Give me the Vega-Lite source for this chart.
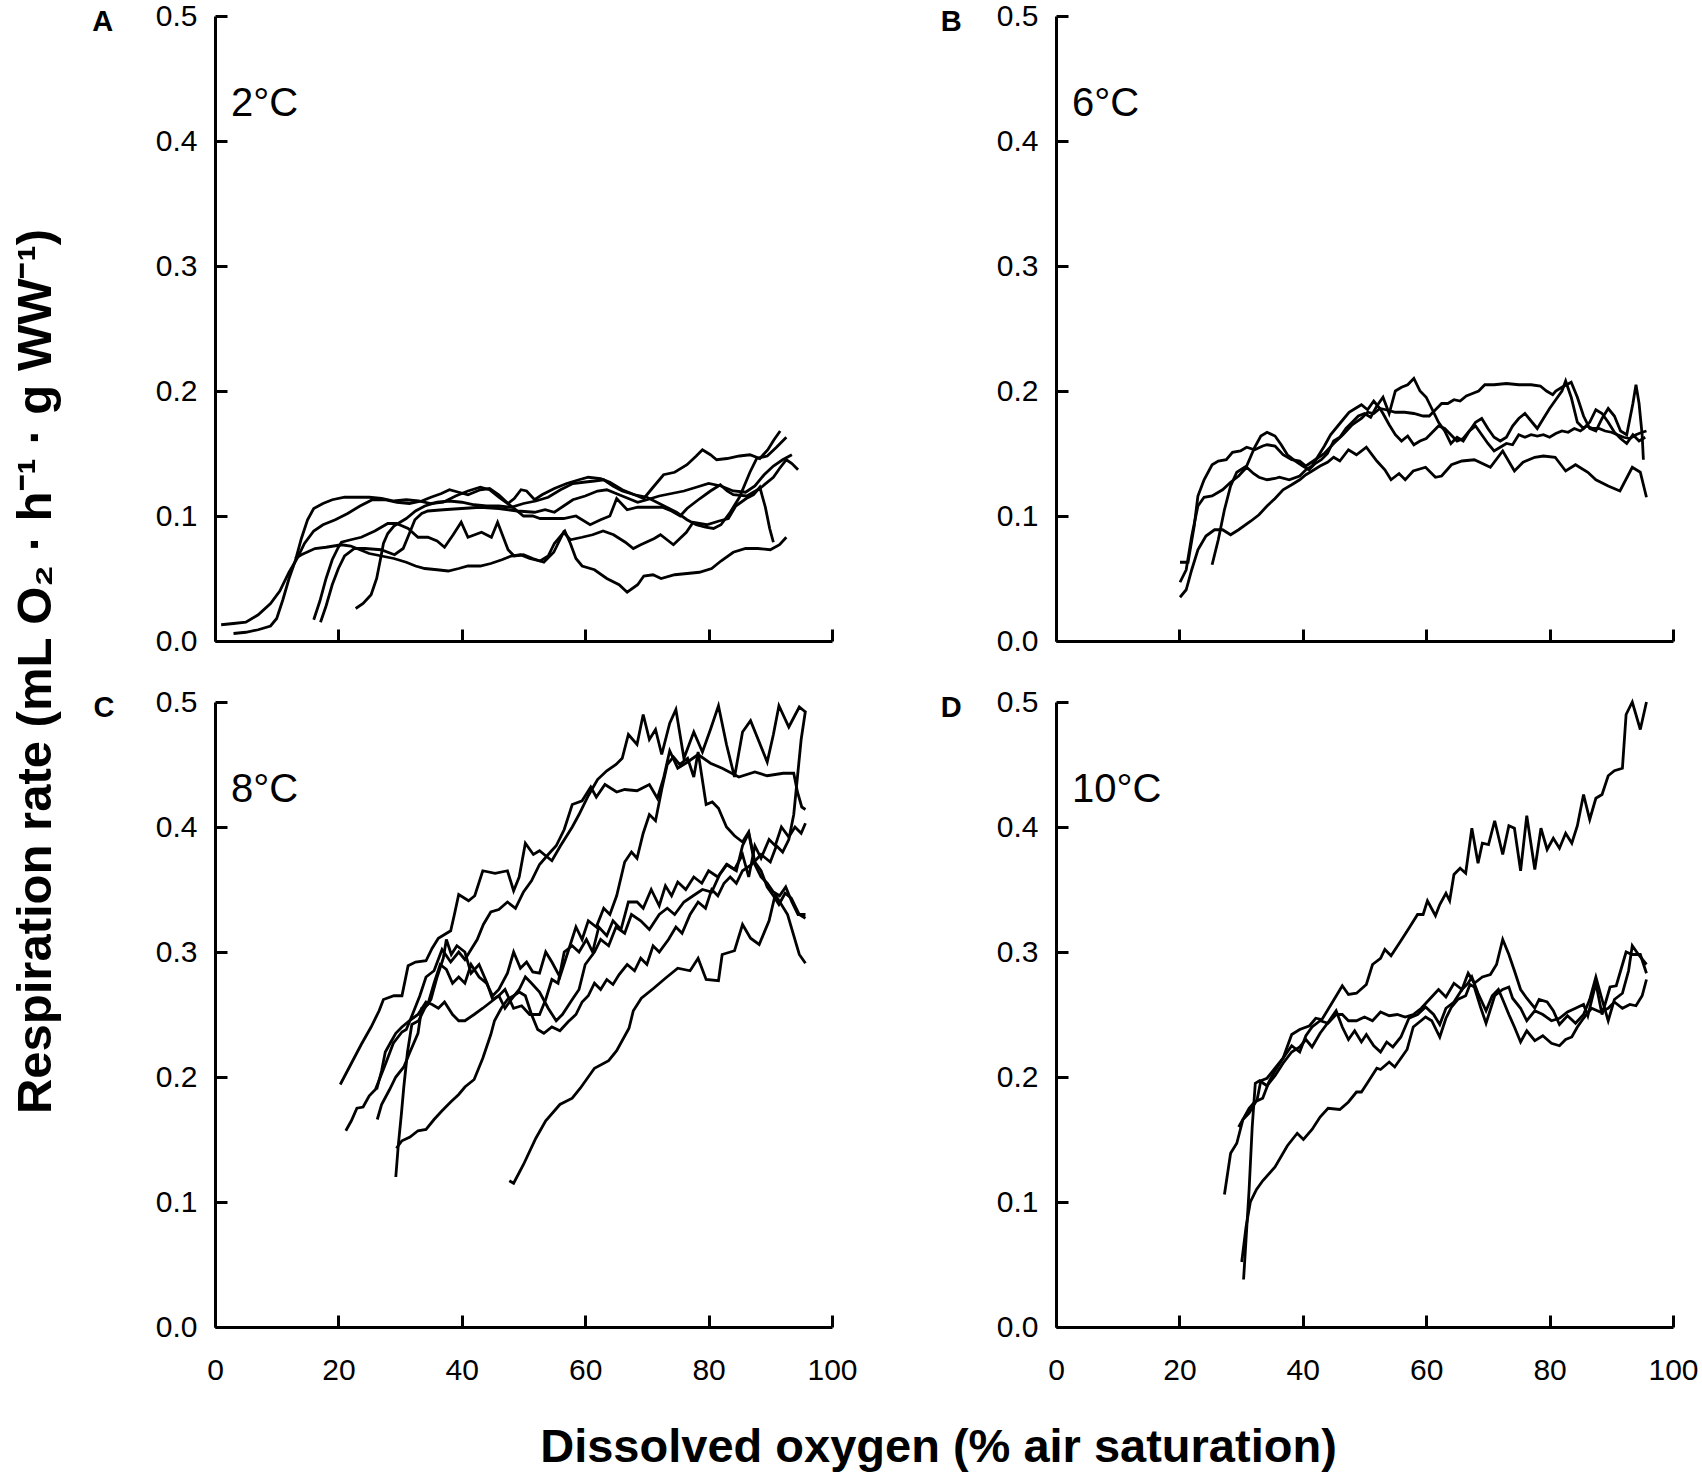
{
  "$schema": "https://vega.github.io/schema/vega-lite/v6.json",
  "background": "white",
  "padding": {"left": 11, "top": 1, "right": 5, "bottom": 3},
  "config": {
    "font": "Liberation Sans",
    "view": {"stroke": null},
    "axis": {
      "grid": false,
      "domainColor": "black",
      "domainWidth": 3,
      "tickColor": "black",
      "tickWidth": 3,
      "tickSize": -12,
      "labelColor": "black",
      "labelFontSize": 30,
      "labelFont": "Liberation Sans",
      "labelFlush": false,
      "titleColor": "black",
      "titleFont": "Liberation Sans",
      "titleFontWeight": "bold",
      "titleFontSize": 47
    },
    "axisY": {"labelPadding": 30},
    "axisX": {"labelPadding": 40},
    "text": {"color": "black", "font": "Liberation Sans"}
  },
  "datasets": {
    "A": [
      {"c":1,"x":1,"y":0.013},{"c":1,"x":3,"y":0.014},{"c":1,"x":5,"y":0.015},{"c":1,"x":7,"y":0.021},{"c":1,"x":9,"y":0.03},{"c":1,"x":10.5,"y":0.04},{"c":1,"x":12,"y":0.055},{"c":1,"x":13.3,"y":0.066},{"c":1,"x":14.5,"y":0.078},{"c":1,"x":16,"y":0.088},{"c":1,"x":17.5,"y":0.093},{"c":1,"x":19.5,"y":0.097},{"c":1,"x":21.5,"y":0.102},{"c":1,"x":23.5,"y":0.108},{"c":1,"x":25.5,"y":0.113},{"c":1,"x":27.5,"y":0.113},{"c":1,"x":29.5,"y":0.111},{"c":1,"x":31.5,"y":0.11},{"c":1,"x":33.5,"y":0.112},{"c":1,"x":35,"y":0.115},{"c":1,"x":36.7,"y":0.118},{"c":1,"x":38,"y":0.121},{"c":1,"x":39.5,"y":0.119},{"c":1,"x":41,"y":0.117},{"c":1,"x":43,"y":0.121},{"c":1,"x":44.5,"y":0.122},{"c":1,"x":46,"y":0.117},{"c":1,"x":47.5,"y":0.11},{"c":1,"x":48.5,"y":0.114},{"c":1,"x":49.6,"y":0.121},{"c":1,"x":50.5,"y":0.12},{"c":1,"x":51.8,"y":0.113},{"c":1,"x":53,"y":0.117},{"c":1,"x":55,"y":0.122},{"c":1,"x":57,"y":0.126},{"c":1,"x":59,"y":0.129},{"c":1,"x":60.5,"y":0.131},{"c":1,"x":62.5,"y":0.13},{"c":1,"x":64,"y":0.127},{"c":1,"x":66,"y":0.121},{"c":1,"x":68,"y":0.117},{"c":1,"x":69.5,"y":0.114},{"c":1,"x":71,"y":0.123},{"c":1,"x":72.7,"y":0.133},{"c":1,"x":74.5,"y":0.135},{"c":1,"x":76.5,"y":0.141},{"c":1,"x":78,"y":0.148},{"c":1,"x":79,"y":0.153},{"c":1,"x":80.3,"y":0.149},{"c":1,"x":81.3,"y":0.145},{"c":1,"x":83,"y":0.146},{"c":1,"x":85,"y":0.148},{"c":1,"x":86.7,"y":0.149},{"c":1,"x":88.3,"y":0.146},{"c":1,"x":89.6,"y":0.153},{"c":1,"x":90.6,"y":0.161},{"c":1,"x":91.6,"y":0.168},
      {"c":2,"x":3,"y":0.006},{"c":2,"x":5,"y":0.007},{"c":2,"x":7,"y":0.009},{"c":2,"x":9,"y":0.012},{"c":2,"x":10,"y":0.018},{"c":2,"x":11,"y":0.033},{"c":2,"x":12,"y":0.05},{"c":2,"x":13,"y":0.064},{"c":2,"x":14,"y":0.082},{"c":2,"x":15,"y":0.097},{"c":2,"x":16,"y":0.106},{"c":2,"x":17.5,"y":0.11},{"c":2,"x":19,"y":0.113},{"c":2,"x":21,"y":0.115},{"c":2,"x":23,"y":0.115},{"c":2,"x":25,"y":0.115},{"c":2,"x":27,"y":0.114},{"c":2,"x":29,"y":0.112},{"c":2,"x":31,"y":0.113},{"c":2,"x":33,"y":0.112},{"c":2,"x":35,"y":0.11},{"c":2,"x":37,"y":0.111},{"c":2,"x":39,"y":0.116},{"c":2,"x":41,"y":0.12},{"c":2,"x":43,"y":0.123},{"c":2,"x":44.5,"y":0.121},{"c":2,"x":46,"y":0.115},{"c":2,"x":48,"y":0.108},{"c":2,"x":50,"y":0.1},{"c":2,"x":51.5,"y":0.1},{"c":2,"x":52.7,"y":0.098},{"c":2,"x":54.9,"y":0.098},{"c":2,"x":56.5,"y":0.098},{"c":2,"x":58.5,"y":0.1},{"c":2,"x":60.8,"y":0.093},{"c":2,"x":62.5,"y":0.097},{"c":2,"x":64,"y":0.1},{"c":2,"x":65.1,"y":0.114},{"c":2,"x":66.8,"y":0.105},{"c":2,"x":68.5,"y":0.107},{"c":2,"x":70,"y":0.107},{"c":2,"x":72.5,"y":0.107},{"c":2,"x":74,"y":0.104},{"c":2,"x":75.4,"y":0.1},{"c":2,"x":76.5,"y":0.106},{"c":2,"x":78.6,"y":0.114},{"c":2,"x":80.3,"y":0.12},{"c":2,"x":81.9,"y":0.125},{"c":2,"x":83,"y":0.12},{"c":2,"x":84,"y":0.117},{"c":2,"x":86.2,"y":0.116},{"c":2,"x":88.3,"y":0.122},{"c":2,"x":90.5,"y":0.131},{"c":2,"x":91.5,"y":0.138},{"c":2,"x":92.6,"y":0.145},{"c":2,"x":93.5,"y":0.142},{"c":2,"x":94.5,"y":0.137},
      {"c":3,"x":16,"y":0.017},{"c":3,"x":17,"y":0.032},{"c":3,"x":18,"y":0.05},{"c":3,"x":19,"y":0.065},{"c":3,"x":20,"y":0.075},{"c":3,"x":20.5,"y":0.079},{"c":3,"x":22,"y":0.081},{"c":3,"x":23.7,"y":0.083},{"c":3,"x":25.9,"y":0.088},{"c":3,"x":28,"y":0.094},{"c":3,"x":29.4,"y":0.094},{"c":3,"x":31.3,"y":0.09},{"c":3,"x":32.9,"y":0.083},{"c":3,"x":34.5,"y":0.083},{"c":3,"x":36,"y":0.08},{"c":3,"x":37.2,"y":0.075},{"c":3,"x":38.6,"y":0.085},{"c":3,"x":39.9,"y":0.095},{"c":3,"x":41,"y":0.083},{"c":3,"x":43.2,"y":0.087},{"c":3,"x":44.8,"y":0.083},{"c":3,"x":45.8,"y":0.095},{"c":3,"x":47.5,"y":0.073},{"c":3,"x":48.5,"y":0.068},{"c":3,"x":50,"y":0.069},{"c":3,"x":51.5,"y":0.066},{"c":3,"x":53.3,"y":0.063},{"c":3,"x":54.9,"y":0.071},{"c":3,"x":56.5,"y":0.087},{"c":3,"x":57.6,"y":0.081},{"c":3,"x":59.5,"y":0.083},{"c":3,"x":61.2,"y":0.085},{"c":3,"x":62.9,"y":0.088},{"c":3,"x":64.6,"y":0.085},{"c":3,"x":66.5,"y":0.079},{"c":3,"x":67.8,"y":0.074},{"c":3,"x":69,"y":0.077},{"c":3,"x":71.2,"y":0.082},{"c":3,"x":72.2,"y":0.085},{"c":3,"x":74.3,"y":0.077},{"c":3,"x":76.4,"y":0.087},{"c":3,"x":77.5,"y":0.095},{"c":3,"x":79.7,"y":0.093},{"c":3,"x":81.7,"y":0.096},{"c":3,"x":83.2,"y":0.098},{"c":3,"x":84.4,"y":0.108},{"c":3,"x":86.1,"y":0.114},{"c":3,"x":87.3,"y":0.117},{"c":3,"x":88.3,"y":0.123},{"c":3,"x":89.2,"y":0.107},{"c":3,"x":89.9,"y":0.09},{"c":3,"x":90.5,"y":0.079},
      {"c":4,"x":17.1,"y":0.015},{"c":4,"x":18,"y":0.028},{"c":4,"x":19,"y":0.045},{"c":4,"x":20,"y":0.058},{"c":4,"x":21,"y":0.068},{"c":4,"x":22.6,"y":0.074},{"c":4,"x":24.3,"y":0.074},{"c":4,"x":26.9,"y":0.073},{"c":4,"x":29.1,"y":0.069},{"c":4,"x":30.5,"y":0.074},{"c":4,"x":31.5,"y":0.086},{"c":4,"x":32.4,"y":0.097},{"c":4,"x":33.5,"y":0.102},{"c":4,"x":34.5,"y":0.104},{"c":4,"x":37,"y":0.105},{"c":4,"x":40,"y":0.106},{"c":4,"x":43,"y":0.107},{"c":4,"x":46,"y":0.106},{"c":4,"x":49,"y":0.104},{"c":4,"x":51.8,"y":0.103},{"c":4,"x":53.5,"y":0.105},{"c":4,"x":55,"y":0.103},{"c":4,"x":56.5,"y":0.108},{"c":4,"x":58,"y":0.113},{"c":4,"x":60,"y":0.116},{"c":4,"x":62,"y":0.12},{"c":4,"x":63.5,"y":0.121},{"c":4,"x":65,"y":0.118},{"c":4,"x":67,"y":0.114},{"c":4,"x":68.5,"y":0.111},{"c":4,"x":70,"y":0.113},{"c":4,"x":72,"y":0.116},{"c":4,"x":74,"y":0.118},{"c":4,"x":76,"y":0.12},{"c":4,"x":78,"y":0.123},{"c":4,"x":80,"y":0.126},{"c":4,"x":82,"y":0.124},{"c":4,"x":84,"y":0.12},{"c":4,"x":86,"y":0.119},{"c":4,"x":87.5,"y":0.124},{"c":4,"x":89,"y":0.133},{"c":4,"x":90.5,"y":0.14},{"c":4,"x":92,"y":0.145},{"c":4,"x":93.5,"y":0.149},
      {"c":5,"x":22.8,"y":0.026},{"c":5,"x":24,"y":0.03},{"c":5,"x":25.3,"y":0.037},{"c":5,"x":26.2,"y":0.05},{"c":5,"x":26.8,"y":0.065},{"c":5,"x":27.3,"y":0.078},{"c":5,"x":28,"y":0.086},{"c":5,"x":29,"y":0.092},{"c":5,"x":30,"y":0.095},{"c":5,"x":31,"y":0.098},{"c":5,"x":32.5,"y":0.104},{"c":5,"x":34,"y":0.108},{"c":5,"x":36,"y":0.111},{"c":5,"x":38,"y":0.112},{"c":5,"x":40,"y":0.111},{"c":5,"x":42,"y":0.109},{"c":5,"x":44,"y":0.108},{"c":5,"x":46,"y":0.108},{"c":5,"x":48,"y":0.107},{"c":5,"x":50,"y":0.11},{"c":5,"x":52,"y":0.112},{"c":5,"x":54,"y":0.115},{"c":5,"x":56,"y":0.121},{"c":5,"x":58,"y":0.126},{"c":5,"x":59.7,"y":0.127},{"c":5,"x":61.5,"y":0.128},{"c":5,"x":63,"y":0.129},{"c":5,"x":64.5,"y":0.124},{"c":5,"x":66,"y":0.12},{"c":5,"x":68,"y":0.117},{"c":5,"x":70,"y":0.115},{"c":5,"x":72,"y":0.11},{"c":5,"x":74.8,"y":0.103},{"c":5,"x":76.5,"y":0.097},{"c":5,"x":78,"y":0.093},{"c":5,"x":79.5,"y":0.091},{"c":5,"x":80.8,"y":0.09},{"c":5,"x":82,"y":0.093},{"c":5,"x":83.5,"y":0.103},{"c":5,"x":85,"y":0.115},{"c":5,"x":86.7,"y":0.135},{"c":5,"x":87.8,"y":0.146},{"c":5,"x":89.5,"y":0.148},{"c":5,"x":91,"y":0.155},{"c":5,"x":92.6,"y":0.163},
      {"c":6,"x":13,"y":0.066},{"c":6,"x":14,"y":0.069},{"c":6,"x":16.2,"y":0.074},{"c":6,"x":18,"y":0.075},{"c":6,"x":20.5,"y":0.077},{"c":6,"x":22,"y":0.076},{"c":6,"x":23.5,"y":0.073},{"c":6,"x":25,"y":0.07},{"c":6,"x":27,"y":0.068},{"c":6,"x":29,"y":0.066},{"c":6,"x":31,"y":0.063},{"c":6,"x":32.5,"y":0.06},{"c":6,"x":34,"y":0.058},{"c":6,"x":36,"y":0.057},{"c":6,"x":37.8,"y":0.056},{"c":6,"x":39.5,"y":0.058},{"c":6,"x":41,"y":0.06},{"c":6,"x":43,"y":0.06},{"c":6,"x":44.7,"y":0.062},{"c":6,"x":46.5,"y":0.065},{"c":6,"x":48,"y":0.068},{"c":6,"x":49.5,"y":0.069},{"c":6,"x":51,"y":0.066},{"c":6,"x":52.7,"y":0.064},{"c":6,"x":54,"y":0.068},{"c":6,"x":55,"y":0.078},{"c":6,"x":56.7,"y":0.088},{"c":6,"x":57.6,"y":0.078},{"c":6,"x":58.5,"y":0.066},{"c":6,"x":59.5,"y":0.06},{"c":6,"x":61.5,"y":0.057},{"c":6,"x":63.5,"y":0.05},{"c":6,"x":65.5,"y":0.045},{"c":6,"x":66.8,"y":0.039},{"c":6,"x":68.5,"y":0.045},{"c":6,"x":69.5,"y":0.052},{"c":6,"x":71,"y":0.053},{"c":6,"x":72.3,"y":0.05},{"c":6,"x":74.5,"y":0.053},{"c":6,"x":76.5,"y":0.054},{"c":6,"x":78.5,"y":0.055},{"c":6,"x":80.5,"y":0.058},{"c":6,"x":82,"y":0.064},{"c":6,"x":84,"y":0.071},{"c":6,"x":86,"y":0.074},{"c":6,"x":88,"y":0.074},{"c":6,"x":90,"y":0.073},{"c":6,"x":91.5,"y":0.077},{"c":6,"x":92.6,"y":0.083}
    ],
    "B": [
      {"c":1,"x":20.1,"y":0.063},{"c":1,"x":21.4,"y":0.063},{"c":1,"x":22.4,"y":0.092},{"c":1,"x":23,"y":0.116},{"c":1,"x":24,"y":0.129},{"c":1,"x":25.3,"y":0.141},{"c":1,"x":26.3,"y":0.144},{"c":1,"x":27.6,"y":0.145},{"c":1,"x":28.6,"y":0.151},{"c":1,"x":29.9,"y":0.152},{"c":1,"x":30.9,"y":0.155},{"c":1,"x":32.2,"y":0.153},{"c":1,"x":33.5,"y":0.156},{"c":1,"x":34.2,"y":0.157},{"c":1,"x":35.5,"y":0.156},{"c":1,"x":36.8,"y":0.149},{"c":1,"x":38.2,"y":0.145},{"c":1,"x":39.5,"y":0.144},{"c":1,"x":40.5,"y":0.14},{"c":1,"x":42,"y":0.145},{"c":1,"x":43.5,"y":0.15},{"c":1,"x":45,"y":0.158},{"c":1,"x":46.5,"y":0.165},{"c":1,"x":48,"y":0.173},{"c":1,"x":49.5,"y":0.178},{"c":1,"x":50.5,"y":0.183},{"c":1,"x":51.5,"y":0.182},{"c":1,"x":52.5,"y":0.186},{"c":1,"x":53.5,"y":0.185},{"c":1,"x":55,"y":0.183},{"c":1,"x":56.5,"y":0.183},{"c":1,"x":58,"y":0.182},{"c":1,"x":59.5,"y":0.18},{"c":1,"x":60.5,"y":0.18},{"c":1,"x":61.5,"y":0.185},{"c":1,"x":62.5,"y":0.19},{"c":1,"x":63.5,"y":0.19},{"c":1,"x":64.5,"y":0.193},{"c":1,"x":65.5,"y":0.192},{"c":1,"x":66.5,"y":0.196},{"c":1,"x":67.5,"y":0.198},{"c":1,"x":68.5,"y":0.2},{"c":1,"x":69.5,"y":0.205},{"c":1,"x":71,"y":0.205},{"c":1,"x":73,"y":0.206},{"c":1,"x":75,"y":0.205},{"c":1,"x":77,"y":0.205},{"c":1,"x":78.5,"y":0.204},{"c":1,"x":79.5,"y":0.2},{"c":1,"x":80.5,"y":0.197},{"c":1,"x":81,"y":0.2},{"c":1,"x":82,"y":0.203},{"c":1,"x":83.5,"y":0.207},{"c":1,"x":84.5,"y":0.195},{"c":1,"x":85.5,"y":0.18},{"c":1,"x":86.5,"y":0.17},{"c":1,"x":87.5,"y":0.168},{"c":1,"x":88.5,"y":0.178},{"c":1,"x":89.5,"y":0.186},{"c":1,"x":90.5,"y":0.18},{"c":1,"x":91.5,"y":0.168},{"c":1,"x":92.5,"y":0.165},{"c":1,"x":93.5,"y":0.19},{"c":1,"x":94,"y":0.205},{"c":1,"x":94.5,"y":0.19},{"c":1,"x":95,"y":0.165},{"c":1,"x":95.2,"y":0.145},
      {"c":2,"x":20.1,"y":0.047},{"c":2,"x":21.1,"y":0.057},{"c":2,"x":22,"y":0.084},{"c":2,"x":23,"y":0.108},{"c":2,"x":24,"y":0.115},{"c":2,"x":25.3,"y":0.116},{"c":2,"x":27,"y":0.121},{"c":2,"x":28.3,"y":0.127},{"c":2,"x":29.6,"y":0.132},{"c":2,"x":30.9,"y":0.139},{"c":2,"x":32,"y":0.134},{"c":2,"x":32.9,"y":0.131},{"c":2,"x":34.2,"y":0.129},{"c":2,"x":35.5,"y":0.13},{"c":2,"x":36.2,"y":0.131},{"c":2,"x":37.8,"y":0.129},{"c":2,"x":39.5,"y":0.132},{"c":2,"x":40.5,"y":0.137},{"c":2,"x":41.5,"y":0.14},{"c":2,"x":42.5,"y":0.148},{"c":2,"x":43.5,"y":0.156},{"c":2,"x":44.5,"y":0.165},{"c":2,"x":45.5,"y":0.171},{"c":2,"x":46.5,"y":0.177},{"c":2,"x":47.5,"y":0.183},{"c":2,"x":48.5,"y":0.186},{"c":2,"x":49.5,"y":0.189},{"c":2,"x":50.5,"y":0.185},{"c":2,"x":51.5,"y":0.192},{"c":2,"x":52.5,"y":0.186},{"c":2,"x":53,"y":0.182},{"c":2,"x":54,"y":0.173},{"c":2,"x":55,"y":0.165},{"c":2,"x":56,"y":0.16},{"c":2,"x":57,"y":0.164},{"c":2,"x":58,"y":0.157},{"c":2,"x":59,"y":0.16},{"c":2,"x":60,"y":0.162},{"c":2,"x":61,"y":0.167},{"c":2,"x":62,"y":0.172},{"c":2,"x":63,"y":0.17},{"c":2,"x":64,"y":0.165},{"c":2,"x":65,"y":0.16},{"c":2,"x":66,"y":0.162},{"c":2,"x":67,"y":0.168},{"c":2,"x":68,"y":0.175},{"c":2,"x":69,"y":0.178},{"c":2,"x":70,"y":0.17},{"c":2,"x":71,"y":0.163},{"c":2,"x":72,"y":0.16},{"c":2,"x":73,"y":0.163},{"c":2,"x":74,"y":0.172},{"c":2,"x":75,"y":0.178},{"c":2,"x":76,"y":0.182},{"c":2,"x":77,"y":0.176},{"c":2,"x":78,"y":0.17},{"c":2,"x":79,"y":0.178},{"c":2,"x":80,"y":0.186},{"c":2,"x":81,"y":0.193},{"c":2,"x":82,"y":0.2},{"c":2,"x":82.6,"y":0.208},{"c":2,"x":83.5,"y":0.195},{"c":2,"x":84.5,"y":0.175},{"c":2,"x":85.5,"y":0.17},{"c":2,"x":86.5,"y":0.175},{"c":2,"x":87.5,"y":0.185},{"c":2,"x":88.5,"y":0.182},{"c":2,"x":89.5,"y":0.175},{"c":2,"x":90.5,"y":0.167},{"c":2,"x":91.5,"y":0.162},{"c":2,"x":92.5,"y":0.158},{"c":2,"x":93.5,"y":0.165},{"c":2,"x":94.5,"y":0.16},{"c":2,"x":95.5,"y":0.163},
      {"c":3,"x":20.1,"y":0.035},{"c":3,"x":21.1,"y":0.041},{"c":3,"x":22,"y":0.057},{"c":3,"x":23,"y":0.073},{"c":3,"x":24.3,"y":0.084},{"c":3,"x":25.7,"y":0.089},{"c":3,"x":27,"y":0.089},{"c":3,"x":28.3,"y":0.085},{"c":3,"x":29.6,"y":0.089},{"c":3,"x":31.6,"y":0.096},{"c":3,"x":32.9,"y":0.101},{"c":3,"x":34.2,"y":0.108},{"c":3,"x":35.5,"y":0.114},{"c":3,"x":36.8,"y":0.121},{"c":3,"x":38.2,"y":0.125},{"c":3,"x":39.5,"y":0.129},{"c":3,"x":40.5,"y":0.133},{"c":3,"x":41.5,"y":0.136},{"c":3,"x":42.8,"y":0.14},{"c":3,"x":44,"y":0.143},{"c":3,"x":45,"y":0.147},{"c":3,"x":46,"y":0.144},{"c":3,"x":47.4,"y":0.153},{"c":3,"x":48.7,"y":0.149},{"c":3,"x":50.3,"y":0.155},{"c":3,"x":52,"y":0.144},{"c":3,"x":53.3,"y":0.137},{"c":3,"x":54.3,"y":0.129},{"c":3,"x":55.6,"y":0.134},{"c":3,"x":56.6,"y":0.129},{"c":3,"x":57.9,"y":0.136},{"c":3,"x":59.9,"y":0.139},{"c":3,"x":61.5,"y":0.131},{"c":3,"x":62.5,"y":0.132},{"c":3,"x":64.1,"y":0.141},{"c":3,"x":65.8,"y":0.144},{"c":3,"x":67.8,"y":0.145},{"c":3,"x":70.4,"y":0.139},{"c":3,"x":72.4,"y":0.152},{"c":3,"x":74.3,"y":0.136},{"c":3,"x":75.7,"y":0.143},{"c":3,"x":77.6,"y":0.147},{"c":3,"x":79,"y":0.148},{"c":3,"x":80.9,"y":0.147},{"c":3,"x":82.6,"y":0.136},{"c":3,"x":84.2,"y":0.141},{"c":3,"x":86.2,"y":0.135},{"c":3,"x":87.5,"y":0.129},{"c":3,"x":89.5,"y":0.124},{"c":3,"x":91.4,"y":0.12},{"c":3,"x":93.4,"y":0.139},{"c":3,"x":94.7,"y":0.135},{"c":3,"x":95.7,"y":0.115},
      {"c":4,"x":25.3,"y":0.061},{"c":4,"x":26.3,"y":0.081},{"c":4,"x":27.3,"y":0.105},{"c":4,"x":28.3,"y":0.124},{"c":4,"x":29.3,"y":0.135},{"c":4,"x":30.9,"y":0.14},{"c":4,"x":32.2,"y":0.155},{"c":4,"x":33.2,"y":0.164},{"c":4,"x":34.2,"y":0.167},{"c":4,"x":35.5,"y":0.164},{"c":4,"x":36.5,"y":0.157},{"c":4,"x":37.5,"y":0.149},{"c":4,"x":38.8,"y":0.144},{"c":4,"x":40,"y":0.14},{"c":4,"x":41,"y":0.137},{"c":4,"x":42,"y":0.142},{"c":4,"x":43,"y":0.145},{"c":4,"x":44,"y":0.15},{"c":4,"x":45,"y":0.16},{"c":4,"x":46,"y":0.163},{"c":4,"x":47,"y":0.17},{"c":4,"x":48,"y":0.175},{"c":4,"x":49,"y":0.18},{"c":4,"x":50,"y":0.182},{"c":4,"x":51,"y":0.179},{"c":4,"x":52,"y":0.188},{"c":4,"x":53,"y":0.195},{"c":4,"x":54,"y":0.182},{"c":4,"x":55,"y":0.2},{"c":4,"x":56,"y":0.203},{"c":4,"x":57,"y":0.205},{"c":4,"x":58,"y":0.21},{"c":4,"x":59,"y":0.2},{"c":4,"x":60,"y":0.195},{"c":4,"x":61,"y":0.185},{"c":4,"x":62,"y":0.175},{"c":4,"x":63,"y":0.168},{"c":4,"x":64,"y":0.158},{"c":4,"x":65,"y":0.163},{"c":4,"x":66,"y":0.16},{"c":4,"x":67,"y":0.168},{"c":4,"x":68,"y":0.172},{"c":4,"x":69,"y":0.165},{"c":4,"x":70,"y":0.158},{"c":4,"x":71,"y":0.152},{"c":4,"x":72,"y":0.155},{"c":4,"x":73,"y":0.158},{"c":4,"x":74,"y":0.157},{"c":4,"x":75,"y":0.165},{"c":4,"x":76,"y":0.163},{"c":4,"x":77,"y":0.165},{"c":4,"x":78,"y":0.164},{"c":4,"x":79,"y":0.165},{"c":4,"x":80,"y":0.163},{"c":4,"x":81,"y":0.166},{"c":4,"x":82,"y":0.168},{"c":4,"x":83,"y":0.167},{"c":4,"x":84,"y":0.17},{"c":4,"x":85,"y":0.168},{"c":4,"x":86,"y":0.172},{"c":4,"x":87,"y":0.17},{"c":4,"x":88,"y":0.17},{"c":4,"x":89,"y":0.168},{"c":4,"x":90,"y":0.167},{"c":4,"x":91,"y":0.165},{"c":4,"x":92,"y":0.163},{"c":4,"x":93,"y":0.162},{"c":4,"x":94,"y":0.165},{"c":4,"x":95,"y":0.167},{"c":4,"x":95.7,"y":0.168}
    ],
    "C": [
      {"c":1,"x":20.3,"y":0.194},{"c":1,"x":22,"y":0.21},{"c":1,"x":23.7,"y":0.226},{"c":1,"x":25.3,"y":0.24},{"c":1,"x":26.6,"y":0.253},{"c":1,"x":27.3,"y":0.262},{"c":1,"x":29,"y":0.265},{"c":1,"x":30.3,"y":0.265},{"c":1,"x":31.3,"y":0.289},{"c":1,"x":32.5,"y":0.292},{"c":1,"x":34.2,"y":0.293},{"c":1,"x":35.2,"y":0.303},{"c":1,"x":36.2,"y":0.311},{"c":1,"x":38.2,"y":0.317},{"c":1,"x":38.8,"y":0.33},{"c":1,"x":39.5,"y":0.346},{"c":1,"x":41.1,"y":0.341},{"c":1,"x":42.1,"y":0.345},{"c":1,"x":43.4,"y":0.365},{"c":1,"x":45.4,"y":0.363},{"c":1,"x":47.4,"y":0.365},{"c":1,"x":48.4,"y":0.349},{"c":1,"x":49.3,"y":0.36},{"c":1,"x":50.3,"y":0.387},{"c":1,"x":51.6,"y":0.378},{"c":1,"x":52.6,"y":0.381},{"c":1,"x":53.6,"y":0.377},{"c":1,"x":54.6,"y":0.373},{"c":1,"x":56,"y":0.385},{"c":1,"x":57.9,"y":0.4},{"c":1,"x":59,"y":0.41},{"c":1,"x":60.5,"y":0.425},{"c":1,"x":62,"y":0.438},{"c":1,"x":63.5,"y":0.445},{"c":1,"x":65,"y":0.45},{"c":1,"x":66,"y":0.455},{"c":1,"x":67,"y":0.474},{"c":1,"x":68.4,"y":0.466},{"c":1,"x":69.4,"y":0.49},{"c":1,"x":70.4,"y":0.47},{"c":1,"x":71.4,"y":0.478},{"c":1,"x":72.4,"y":0.458},{"c":1,"x":73.7,"y":0.483},{"c":1,"x":74.7,"y":0.494},{"c":1,"x":76,"y":0.455},{"c":1,"x":77.6,"y":0.476},{"c":1,"x":79,"y":0.46},{"c":1,"x":80.3,"y":0.478},{"c":1,"x":81.6,"y":0.497},{"c":1,"x":82.9,"y":0.466},{"c":1,"x":84.2,"y":0.44},{"c":1,"x":85.5,"y":0.476},{"c":1,"x":86.8,"y":0.485},{"c":1,"x":88.2,"y":0.468},{"c":1,"x":89.5,"y":0.452},{"c":1,"x":90.5,"y":0.474},{"c":1,"x":91.4,"y":0.497},{"c":1,"x":93,"y":0.48},{"c":1,"x":94.7,"y":0.496},{"c":1,"x":95.7,"y":0.492},
      {"c":2,"x":21.2,"y":0.157},{"c":2,"x":22.1,"y":0.165},{"c":2,"x":23,"y":0.175},{"c":2,"x":24,"y":0.176},{"c":2,"x":25,"y":0.185},{"c":2,"x":26,"y":0.19},{"c":2,"x":27.6,"y":0.21},{"c":2,"x":28.9,"y":0.227},{"c":2,"x":30.3,"y":0.236},{"c":2,"x":31,"y":0.238},{"c":2,"x":32,"y":0.25},{"c":2,"x":33.2,"y":0.265},{"c":2,"x":34.2,"y":0.28},{"c":2,"x":35.5,"y":0.285},{"c":2,"x":36.8,"y":0.302},{"c":2,"x":38.2,"y":0.292},{"c":2,"x":39.5,"y":0.3},{"c":2,"x":40.5,"y":0.294},{"c":2,"x":41.5,"y":0.302},{"c":2,"x":42.5,"y":0.31},{"c":2,"x":43.5,"y":0.322},{"c":2,"x":44.7,"y":0.332},{"c":2,"x":46,"y":0.334},{"c":2,"x":47.4,"y":0.34},{"c":2,"x":48.7,"y":0.335},{"c":2,"x":50,"y":0.348},{"c":2,"x":51.3,"y":0.357},{"c":2,"x":52.6,"y":0.37},{"c":2,"x":54,"y":0.378},{"c":2,"x":55.3,"y":0.385},{"c":2,"x":56.6,"y":0.398},{"c":2,"x":57.9,"y":0.418},{"c":2,"x":59.5,"y":0.421},{"c":2,"x":60.9,"y":0.432},{"c":2,"x":61.8,"y":0.424},{"c":2,"x":63.2,"y":0.434},{"c":2,"x":65.1,"y":0.428},{"c":2,"x":66.4,"y":0.43},{"c":2,"x":68.4,"y":0.429},{"c":2,"x":70.4,"y":0.434},{"c":2,"x":71.7,"y":0.423},{"c":2,"x":72.7,"y":0.439},{"c":2,"x":73.7,"y":0.461},{"c":2,"x":75,"y":0.447},{"c":2,"x":76.6,"y":0.452},{"c":2,"x":78.3,"y":0.458},{"c":2,"x":80.3,"y":0.451},{"c":2,"x":82.2,"y":0.447},{"c":2,"x":84.9,"y":0.44},{"c":2,"x":87.5,"y":0.444},{"c":2,"x":89.5,"y":0.441},{"c":2,"x":92.1,"y":0.443},{"c":2,"x":93.8,"y":0.443},{"c":2,"x":94.4,"y":0.428},{"c":2,"x":95.1,"y":0.416},{"c":2,"x":95.7,"y":0.414},
      {"c":3,"x":26.3,"y":0.166},{"c":3,"x":27,"y":0.178},{"c":3,"x":28.3,"y":0.19},{"c":3,"x":29.3,"y":0.2},{"c":3,"x":30.6,"y":0.208},{"c":3,"x":31.6,"y":0.22},{"c":3,"x":32.9,"y":0.235},{"c":3,"x":33.5,"y":0.255},{"c":3,"x":34.5,"y":0.258},{"c":3,"x":35.5,"y":0.275},{"c":3,"x":36.5,"y":0.29},{"c":3,"x":37.5,"y":0.286},{"c":3,"x":38.5,"y":0.275},{"c":3,"x":39.5,"y":0.28},{"c":3,"x":40.5,"y":0.275},{"c":3,"x":41.5,"y":0.29},{"c":3,"x":42.8,"y":0.28},{"c":3,"x":44,"y":0.275},{"c":3,"x":45,"y":0.265},{"c":3,"x":46,"y":0.27},{"c":3,"x":47.4,"y":0.283},{"c":3,"x":48.4,"y":0.3},{"c":3,"x":49.5,"y":0.287},{"c":3,"x":50.5,"y":0.292},{"c":3,"x":51.5,"y":0.284},{"c":3,"x":52.6,"y":0.283},{"c":3,"x":53.6,"y":0.3},{"c":3,"x":54.6,"y":0.292},{"c":3,"x":55.9,"y":0.28},{"c":3,"x":57.2,"y":0.3},{"c":3,"x":58.5,"y":0.32},{"c":3,"x":59.5,"y":0.31},{"c":3,"x":60.5,"y":0.325},{"c":3,"x":61.8,"y":0.32},{"c":3,"x":63,"y":0.335},{"c":3,"x":64,"y":0.33},{"c":3,"x":65.1,"y":0.345},{"c":3,"x":66.4,"y":0.372},{"c":3,"x":67.5,"y":0.38},{"c":3,"x":68.4,"y":0.375},{"c":3,"x":69.4,"y":0.395},{"c":3,"x":70.4,"y":0.41},{"c":3,"x":71.4,"y":0.405},{"c":3,"x":72.4,"y":0.43},{"c":3,"x":73.3,"y":0.45},{"c":3,"x":74.3,"y":0.456},{"c":3,"x":75.3,"y":0.45},{"c":3,"x":76.6,"y":0.455},{"c":3,"x":77.6,"y":0.44},{"c":3,"x":78.3,"y":0.46},{"c":3,"x":79.6,"y":0.418},{"c":3,"x":80.6,"y":0.42},{"c":3,"x":81.6,"y":0.415},{"c":3,"x":82.9,"y":0.4},{"c":3,"x":84.2,"y":0.393},{"c":3,"x":85.5,"y":0.388},{"c":3,"x":86.5,"y":0.396},{"c":3,"x":87.5,"y":0.372},{"c":3,"x":88.5,"y":0.365},{"c":3,"x":89.5,"y":0.352},{"c":3,"x":90.5,"y":0.345},{"c":3,"x":91.4,"y":0.338},{"c":3,"x":92.4,"y":0.347},{"c":3,"x":93.4,"y":0.343},{"c":3,"x":94.7,"y":0.33},{"c":3,"x":95.7,"y":0.327},
      {"c":4,"x":29.3,"y":0.12},{"c":4,"x":29.7,"y":0.145},{"c":4,"x":30.2,"y":0.17},{"c":4,"x":30.6,"y":0.192},{"c":4,"x":31.2,"y":0.22},{"c":4,"x":31.9,"y":0.242},{"c":4,"x":33,"y":0.245},{"c":4,"x":34,"y":0.255},{"c":4,"x":35,"y":0.262},{"c":4,"x":36,"y":0.28},{"c":4,"x":37,"y":0.295},{"c":4,"x":37.5,"y":0.31},{"c":4,"x":38.3,"y":0.298},{"c":4,"x":39.2,"y":0.305},{"c":4,"x":40.5,"y":0.3},{"c":4,"x":41.5,"y":0.283},{"c":4,"x":42.8,"y":0.29},{"c":4,"x":44.1,"y":0.275},{"c":4,"x":45,"y":0.262},{"c":4,"x":46,"y":0.265},{"c":4,"x":47,"y":0.27},{"c":4,"x":48.4,"y":0.255},{"c":4,"x":49.7,"y":0.257},{"c":4,"x":51,"y":0.25},{"c":4,"x":52.6,"y":0.25},{"c":4,"x":53.6,"y":0.262},{"c":4,"x":54.6,"y":0.278},{"c":4,"x":55.6,"y":0.275},{"c":4,"x":56.6,"y":0.3},{"c":4,"x":57.9,"y":0.305},{"c":4,"x":59,"y":0.3},{"c":4,"x":60.2,"y":0.31},{"c":4,"x":61.2,"y":0.3},{"c":4,"x":62.2,"y":0.32},{"c":4,"x":63.5,"y":0.313},{"c":4,"x":64.5,"y":0.325},{"c":4,"x":65.8,"y":0.318},{"c":4,"x":67,"y":0.34},{"c":4,"x":68.4,"y":0.34},{"c":4,"x":69.4,"y":0.335},{"c":4,"x":70.7,"y":0.35},{"c":4,"x":72,"y":0.337},{"c":4,"x":73,"y":0.353},{"c":4,"x":74,"y":0.345},{"c":4,"x":75,"y":0.356},{"c":4,"x":76.3,"y":0.35},{"c":4,"x":77.6,"y":0.36},{"c":4,"x":78.9,"y":0.355},{"c":4,"x":80,"y":0.365},{"c":4,"x":81.5,"y":0.36},{"c":4,"x":82.9,"y":0.37},{"c":4,"x":84.2,"y":0.366},{"c":4,"x":85.5,"y":0.378},{"c":4,"x":86.5,"y":0.36},{"c":4,"x":87.5,"y":0.385},{"c":4,"x":88.5,"y":0.375},{"c":4,"x":89.8,"y":0.39},{"c":4,"x":90.8,"y":0.385},{"c":4,"x":91.8,"y":0.4},{"c":4,"x":93,"y":0.392},{"c":4,"x":94,"y":0.4},{"c":4,"x":95,"y":0.395},{"c":4,"x":95.7,"y":0.403},
      {"c":5,"x":29.4,"y":0.143},{"c":5,"x":30.3,"y":0.149},{"c":5,"x":31.6,"y":0.152},{"c":5,"x":32.9,"y":0.157},{"c":5,"x":34.2,"y":0.158},{"c":5,"x":35.5,"y":0.166},{"c":5,"x":36.8,"y":0.173},{"c":5,"x":38.2,"y":0.18},{"c":5,"x":39.5,"y":0.186},{"c":5,"x":40.5,"y":0.192},{"c":5,"x":42,"y":0.198},{"c":5,"x":43.4,"y":0.215},{"c":5,"x":44.7,"y":0.234},{"c":5,"x":45.3,"y":0.245},{"c":5,"x":46.4,"y":0.255},{"c":5,"x":47.4,"y":0.262},{"c":5,"x":48.4,"y":0.265},{"c":5,"x":49.3,"y":0.268},{"c":5,"x":50.3,"y":0.265},{"c":5,"x":51.3,"y":0.25},{"c":5,"x":52.3,"y":0.238},{"c":5,"x":53.3,"y":0.235},{"c":5,"x":54.6,"y":0.24},{"c":5,"x":55.9,"y":0.237},{"c":5,"x":57.2,"y":0.244},{"c":5,"x":58.5,"y":0.25},{"c":5,"x":59.5,"y":0.26},{"c":5,"x":60.5,"y":0.265},{"c":5,"x":61.5,"y":0.275},{"c":5,"x":62.5,"y":0.27},{"c":5,"x":63.5,"y":0.278},{"c":5,"x":64.5,"y":0.274},{"c":5,"x":65.5,"y":0.282},{"c":5,"x":66.8,"y":0.29},{"c":5,"x":68,"y":0.285},{"c":5,"x":69,"y":0.295},{"c":5,"x":70,"y":0.29},{"c":5,"x":71,"y":0.305},{"c":5,"x":72,"y":0.3},{"c":5,"x":73.5,"y":0.31},{"c":5,"x":74.7,"y":0.32},{"c":5,"x":75.7,"y":0.315},{"c":5,"x":77,"y":0.33},{"c":5,"x":78.3,"y":0.34},{"c":5,"x":79.5,"y":0.335},{"c":5,"x":80.5,"y":0.35},{"c":5,"x":81.5,"y":0.345},{"c":5,"x":82.5,"y":0.355},{"c":5,"x":83.5,"y":0.36},{"c":5,"x":84.5,"y":0.355},{"c":5,"x":85.5,"y":0.365},{"c":5,"x":87,"y":0.37},{"c":5,"x":88.5,"y":0.378},{"c":5,"x":90,"y":0.372},{"c":5,"x":91,"y":0.385},{"c":5,"x":92,"y":0.38},{"c":5,"x":93,"y":0.39},{"c":5,"x":93.8,"y":0.41},{"c":5,"x":94.4,"y":0.44},{"c":5,"x":95,"y":0.47},{"c":5,"x":95.7,"y":0.493},
      {"c":6,"x":26.2,"y":0.19},{"c":6,"x":27,"y":0.205},{"c":6,"x":27.6,"y":0.22},{"c":6,"x":28.5,"y":0.228},{"c":6,"x":29.3,"y":0.235},{"c":6,"x":30.3,"y":0.24},{"c":6,"x":31.5,"y":0.245},{"c":6,"x":32.9,"y":0.25},{"c":6,"x":34.2,"y":0.26},{"c":6,"x":35.2,"y":0.258},{"c":6,"x":36.2,"y":0.255},{"c":6,"x":37.2,"y":0.26},{"c":6,"x":38.5,"y":0.25},{"c":6,"x":39.5,"y":0.245},{"c":6,"x":40.5,"y":0.245},{"c":6,"x":42,"y":0.25},{"c":6,"x":43.4,"y":0.255},{"c":6,"x":44.7,"y":0.26},{"c":6,"x":46,"y":0.265},{"c":6,"x":47,"y":0.255},{"c":6,"x":48,"y":0.262},{"c":6,"x":49.3,"y":0.27},{"c":6,"x":50.3,"y":0.28},{"c":6,"x":51.3,"y":0.275},{"c":6,"x":52.6,"y":0.268},{"c":6,"x":54,"y":0.255},{"c":6,"x":55.3,"y":0.245},{"c":6,"x":56.3,"y":0.25},{"c":6,"x":57.9,"y":0.262},{"c":6,"x":59,"y":0.27},{"c":6,"x":60,"y":0.29},{"c":6,"x":61.5,"y":0.3},{"c":6,"x":62.5,"y":0.31},{"c":6,"x":63.8,"y":0.305},{"c":6,"x":65,"y":0.32},{"c":6,"x":66.4,"y":0.315},{"c":6,"x":67.5,"y":0.33},{"c":6,"x":69,"y":0.325},{"c":6,"x":70.4,"y":0.318},{"c":6,"x":72,"y":0.33},{"c":6,"x":73.3,"y":0.335},{"c":6,"x":74.5,"y":0.33},{"c":6,"x":76,"y":0.34},{"c":6,"x":77.5,"y":0.345},{"c":6,"x":79,"y":0.35},{"c":6,"x":80.5,"y":0.348},{"c":6,"x":81.8,"y":0.362},{"c":6,"x":83,"y":0.37},{"c":6,"x":84.5,"y":0.365},{"c":6,"x":85.5,"y":0.385},{"c":6,"x":86.5,"y":0.395},{"c":6,"x":87.5,"y":0.37},{"c":6,"x":88.5,"y":0.36},{"c":6,"x":89.5,"y":0.355},{"c":6,"x":90.5,"y":0.348},{"c":6,"x":91.5,"y":0.345},{"c":6,"x":92.5,"y":0.352},{"c":6,"x":93.5,"y":0.34},{"c":6,"x":94.5,"y":0.33},{"c":6,"x":95.7,"y":0.33},
      {"c":7,"x":47.7,"y":0.117},{"c":7,"x":48.4,"y":0.115},{"c":7,"x":50,"y":0.13},{"c":7,"x":52,"y":0.151},{"c":7,"x":53.6,"y":0.165},{"c":7,"x":55.9,"y":0.178},{"c":7,"x":57.9,"y":0.183},{"c":7,"x":59.2,"y":0.191},{"c":7,"x":61.5,"y":0.207},{"c":7,"x":63.8,"y":0.213},{"c":7,"x":65.1,"y":0.221},{"c":7,"x":67.1,"y":0.239},{"c":7,"x":67.8,"y":0.253},{"c":7,"x":69.1,"y":0.263},{"c":7,"x":71.1,"y":0.271},{"c":7,"x":73,"y":0.279},{"c":7,"x":75,"y":0.287},{"c":7,"x":77,"y":0.285},{"c":7,"x":78.3,"y":0.295},{"c":7,"x":79.6,"y":0.278},{"c":7,"x":81.6,"y":0.277},{"c":7,"x":82.2,"y":0.298},{"c":7,"x":84.2,"y":0.301},{"c":7,"x":85.5,"y":0.322},{"c":7,"x":86.8,"y":0.311},{"c":7,"x":88.2,"y":0.306},{"c":7,"x":89.8,"y":0.325},{"c":7,"x":90.8,"y":0.346},{"c":7,"x":92.8,"y":0.33},{"c":7,"x":94.7,"y":0.298},{"c":7,"x":95.7,"y":0.291}
    ],
    "D": [
      {"c":1,"x":27.3,"y":0.106},{"c":1,"x":28.3,"y":0.139},{"c":1,"x":29.3,"y":0.147},{"c":1,"x":30.3,"y":0.166},{"c":1,"x":31.3,"y":0.171},{"c":1,"x":32.6,"y":0.182},{"c":1,"x":33.2,"y":0.197},{"c":1,"x":34.2,"y":0.199},{"c":1,"x":35.5,"y":0.207},{"c":1,"x":36.8,"y":0.215},{"c":1,"x":38.2,"y":0.234},{"c":1,"x":39.5,"y":0.238},{"c":1,"x":41.1,"y":0.241},{"c":1,"x":42.1,"y":0.247},{"c":1,"x":43.1,"y":0.246},{"c":1,"x":44.7,"y":0.259},{"c":1,"x":46.4,"y":0.273},{"c":1,"x":47.4,"y":0.266},{"c":1,"x":48.7,"y":0.267},{"c":1,"x":50.3,"y":0.274},{"c":1,"x":51.3,"y":0.29},{"c":1,"x":52.6,"y":0.295},{"c":1,"x":53.3,"y":0.302},{"c":1,"x":54.3,"y":0.297},{"c":1,"x":55.9,"y":0.309},{"c":1,"x":57.2,"y":0.319},{"c":1,"x":58.6,"y":0.33},{"c":1,"x":59.5,"y":0.33},{"c":1,"x":60.2,"y":0.341},{"c":1,"x":61.5,"y":0.329},{"c":1,"x":62.2,"y":0.338},{"c":1,"x":63.2,"y":0.347},{"c":1,"x":63.8,"y":0.341},{"c":1,"x":64.5,"y":0.362},{"c":1,"x":65.5,"y":0.367},{"c":1,"x":66.4,"y":0.363},{"c":1,"x":67.4,"y":0.399},{"c":1,"x":68.4,"y":0.371},{"c":1,"x":69.1,"y":0.387},{"c":1,"x":70.1,"y":0.386},{"c":1,"x":71.1,"y":0.405},{"c":1,"x":72.4,"y":0.378},{"c":1,"x":73.4,"y":0.401},{"c":1,"x":74.3,"y":0.399},{"c":1,"x":75.3,"y":0.365},{"c":1,"x":76.3,"y":0.409},{"c":1,"x":77.6,"y":0.366},{"c":1,"x":78.6,"y":0.399},{"c":1,"x":79.6,"y":0.382},{"c":1,"x":80.6,"y":0.391},{"c":1,"x":81.6,"y":0.383},{"c":1,"x":82.6,"y":0.395},{"c":1,"x":83.6,"y":0.387},{"c":1,"x":84.5,"y":0.401},{"c":1,"x":85.5,"y":0.426},{"c":1,"x":86.5,"y":0.406},{"c":1,"x":87.5,"y":0.423},{"c":1,"x":88.5,"y":0.426},{"c":1,"x":89.5,"y":0.441},{"c":1,"x":90.5,"y":0.445},{"c":1,"x":91.8,"y":0.447},{"c":1,"x":92.4,"y":0.49},{"c":1,"x":93.4,"y":0.5},{"c":1,"x":94.7,"y":0.478},{"c":1,"x":95.7,"y":0.5},
      {"c":2,"x":30.4,"y":0.038},{"c":2,"x":30.8,"y":0.07},{"c":2,"x":31.3,"y":0.11},{"c":2,"x":31.8,"y":0.16},{"c":2,"x":32.3,"y":0.195},{"c":2,"x":33,"y":0.197},{"c":2,"x":34.2,"y":0.193},{"c":2,"x":35.5,"y":0.201},{"c":2,"x":36.8,"y":0.211},{"c":2,"x":38.2,"y":0.22},{"c":2,"x":39.5,"y":0.224},{"c":2,"x":40.5,"y":0.23},{"c":2,"x":41.5,"y":0.224},{"c":2,"x":42.8,"y":0.235},{"c":2,"x":44,"y":0.243},{"c":2,"x":45.4,"y":0.253},{"c":2,"x":46.4,"y":0.24},{"c":2,"x":47.4,"y":0.23},{"c":2,"x":48.4,"y":0.237},{"c":2,"x":49.5,"y":0.228},{"c":2,"x":50.3,"y":0.234},{"c":2,"x":51.5,"y":0.225},{"c":2,"x":52.6,"y":0.22},{"c":2,"x":53.6,"y":0.228},{"c":2,"x":54.6,"y":0.224},{"c":2,"x":55.9,"y":0.232},{"c":2,"x":57.2,"y":0.247},{"c":2,"x":58.6,"y":0.25},{"c":2,"x":59.9,"y":0.256},{"c":2,"x":61.2,"y":0.25},{"c":2,"x":62.2,"y":0.242},{"c":2,"x":63.2,"y":0.255},{"c":2,"x":64.5,"y":0.26},{"c":2,"x":65.8,"y":0.27},{"c":2,"x":66.8,"y":0.275},{"c":2,"x":67.4,"y":0.28},{"c":2,"x":68.4,"y":0.267},{"c":2,"x":69.7,"y":0.253},{"c":2,"x":70.7,"y":0.265},{"c":2,"x":71.7,"y":0.27},{"c":2,"x":72.4,"y":0.262},{"c":2,"x":73.4,"y":0.25},{"c":2,"x":74.3,"y":0.24},{"c":2,"x":75.3,"y":0.228},{"c":2,"x":76.3,"y":0.237},{"c":2,"x":77.6,"y":0.229},{"c":2,"x":78.9,"y":0.233},{"c":2,"x":80.3,"y":0.227},{"c":2,"x":81.6,"y":0.225},{"c":2,"x":82.6,"y":0.23},{"c":2,"x":83.6,"y":0.232},{"c":2,"x":84.5,"y":0.24},{"c":2,"x":85.5,"y":0.247},{"c":2,"x":86.8,"y":0.255},{"c":2,"x":88.2,"y":0.252},{"c":2,"x":89.5,"y":0.255},{"c":2,"x":90.5,"y":0.26},{"c":2,"x":91.8,"y":0.255},{"c":2,"x":93,"y":0.258},{"c":2,"x":94,"y":0.257},{"c":2,"x":95,"y":0.265},{"c":2,"x":95.7,"y":0.278},
      {"c":3,"x":30.1,"y":0.052},{"c":3,"x":30.8,"y":0.08},{"c":3,"x":31.5,"y":0.1},{"c":3,"x":32.5,"y":0.11},{"c":3,"x":33.5,"y":0.117},{"c":3,"x":35.5,"y":0.128},{"c":3,"x":37.5,"y":0.145},{"c":3,"x":39.1,"y":0.155},{"c":3,"x":40.1,"y":0.15},{"c":3,"x":41.5,"y":0.158},{"c":3,"x":42.8,"y":0.168},{"c":3,"x":44.1,"y":0.175},{"c":3,"x":46,"y":0.174},{"c":3,"x":47.4,"y":0.18},{"c":3,"x":48.7,"y":0.188},{"c":3,"x":49.5,"y":0.188},{"c":3,"x":50.7,"y":0.197},{"c":3,"x":52,"y":0.207},{"c":3,"x":52.6,"y":0.206},{"c":3,"x":54,"y":0.212},{"c":3,"x":54.9,"y":0.208},{"c":3,"x":55.9,"y":0.215},{"c":3,"x":56.9,"y":0.222},{"c":3,"x":57.9,"y":0.24},{"c":3,"x":58.9,"y":0.244},{"c":3,"x":59.9,"y":0.248},{"c":3,"x":60.9,"y":0.245},{"c":3,"x":62.2,"y":0.232},{"c":3,"x":63.2,"y":0.247},{"c":3,"x":64.1,"y":0.256},{"c":3,"x":65.1,"y":0.262},{"c":3,"x":66.4,"y":0.265},{"c":3,"x":67.1,"y":0.274},{"c":3,"x":67.8,"y":0.272},{"c":3,"x":68.8,"y":0.256},{"c":3,"x":69.7,"y":0.243},{"c":3,"x":71.1,"y":0.265},{"c":3,"x":72.4,"y":0.27},{"c":3,"x":73.4,"y":0.272},{"c":3,"x":74,"y":0.263},{"c":3,"x":75.3,"y":0.255},{"c":3,"x":76.3,"y":0.245},{"c":3,"x":77.6,"y":0.253},{"c":3,"x":78.9,"y":0.25},{"c":3,"x":80.3,"y":0.245},{"c":3,"x":81.6,"y":0.247},{"c":3,"x":82.9,"y":0.252},{"c":3,"x":84.2,"y":0.255},{"c":3,"x":85.5,"y":0.258},{"c":3,"x":86.2,"y":0.249},{"c":3,"x":87.5,"y":0.275},{"c":3,"x":88.5,"y":0.25},{"c":3,"x":89.8,"y":0.272},{"c":3,"x":90.8,"y":0.273},{"c":3,"x":92.4,"y":0.3},{"c":3,"x":93.4,"y":0.298},{"c":3,"x":94.7,"y":0.298},{"c":3,"x":95.7,"y":0.283},
      {"c":4,"x":29.6,"y":0.16},{"c":4,"x":30.3,"y":0.166},{"c":4,"x":31.3,"y":0.175},{"c":4,"x":32.2,"y":0.18},{"c":4,"x":33.5,"y":0.183},{"c":4,"x":34.5,"y":0.196},{"c":4,"x":35.5,"y":0.205},{"c":4,"x":36.8,"y":0.215},{"c":4,"x":38.2,"y":0.225},{"c":4,"x":39.5,"y":0.22},{"c":4,"x":40.5,"y":0.233},{"c":4,"x":41.5,"y":0.24},{"c":4,"x":42.8,"y":0.245},{"c":4,"x":44.1,"y":0.243},{"c":4,"x":45.4,"y":0.25},{"c":4,"x":46.4,"y":0.25},{"c":4,"x":47.4,"y":0.245},{"c":4,"x":48.7,"y":0.245},{"c":4,"x":50,"y":0.248},{"c":4,"x":51.3,"y":0.245},{"c":4,"x":52.6,"y":0.252},{"c":4,"x":54,"y":0.249},{"c":4,"x":55.3,"y":0.25},{"c":4,"x":56.6,"y":0.248},{"c":4,"x":57.9,"y":0.25},{"c":4,"x":59.2,"y":0.255},{"c":4,"x":60.5,"y":0.262},{"c":4,"x":62,"y":0.27},{"c":4,"x":63.2,"y":0.264},{"c":4,"x":64.5,"y":0.275},{"c":4,"x":65.8,"y":0.27},{"c":4,"x":66.8,"y":0.283},{"c":4,"x":67.8,"y":0.275},{"c":4,"x":69.1,"y":0.28},{"c":4,"x":70.4,"y":0.282},{"c":4,"x":71.4,"y":0.29},{"c":4,"x":72.4,"y":0.31},{"c":4,"x":73.4,"y":0.298},{"c":4,"x":74.3,"y":0.285},{"c":4,"x":75.3,"y":0.27},{"c":4,"x":76.3,"y":0.263},{"c":4,"x":77.6,"y":0.255},{"c":4,"x":78.3,"y":0.262},{"c":4,"x":79.6,"y":0.26},{"c":4,"x":80.6,"y":0.253},{"c":4,"x":81.6,"y":0.242},{"c":4,"x":82.9,"y":0.249},{"c":4,"x":84.2,"y":0.243},{"c":4,"x":85.5,"y":0.25},{"c":4,"x":86.5,"y":0.262},{"c":4,"x":87.5,"y":0.28},{"c":4,"x":88.5,"y":0.262},{"c":4,"x":89.5,"y":0.245},{"c":4,"x":90.5,"y":0.262},{"c":4,"x":91.8,"y":0.267},{"c":4,"x":92.8,"y":0.285},{"c":4,"x":93.4,"y":0.305},{"c":4,"x":94.4,"y":0.298},{"c":4,"x":95.7,"y":0.29}
    ]
  },
  "columns": 2,
  "bounds": "flush",
  "spacing": {"row": 61, "column": 224},
  "concat": [
    {
      "width": 617,
      "height": 625,
      "layer": [
        {
          "data": {"name": "A"},
          "mark": {"type": "line", "color": "black", "strokeWidth": 2.8},
          "encoding": {
            "x": {"field": "x", "type": "quantitative", "scale": {"domain": [0, 100], "nice": false}, "axis": {"values": [0, 20, 40, 60, 80, 100], "labels": false, "title": null}},
            "y": {"field": "y", "type": "quantitative", "scale": {"domain": [0, 0.5], "nice": false}, "axis": {"values": [0, 0.1, 0.2, 0.3, 0.4, 0.5], "format": ".1f", "title": "Respiration rate (mL O₂ · h⁻¹ · g WW⁻¹)", "titleFontSize": 49, "titleX": -155, "titleY": 655}},
            "detail": {"field": "c", "type": "nominal"}
          }
        },
        {
          "data": {"values": [{"t": "2°C", "x": 2.6, "y": 0.43}]},
          "mark": {"type": "text", "align": "left", "baseline": "middle", "fontSize": 40},
          "encoding": {"x": {"field": "x", "type": "quantitative"}, "y": {"field": "y", "type": "quantitative"}, "text": {"field": "t"}}
        },
        {
          "data": {"values": [{"t": "A", "x": -18.2, "y": 0.4954}]},
          "mark": {"type": "text", "align": "center", "baseline": "middle", "fontSize": 29, "fontWeight": "bold"},
          "encoding": {"x": {"field": "x", "type": "quantitative"}, "y": {"field": "y", "type": "quantitative"}, "text": {"field": "t"}}
        }
      ]
    },
    {
      "width": 617,
      "height": 625,
      "layer": [
        {
          "data": {"name": "B"},
          "mark": {"type": "line", "color": "black", "strokeWidth": 2.8},
          "encoding": {
            "x": {"field": "x", "type": "quantitative", "scale": {"domain": [0, 100], "nice": false}, "axis": {"values": [0, 20, 40, 60, 80, 100], "labels": false, "title": null}},
            "y": {"field": "y", "type": "quantitative", "scale": {"domain": [0, 0.5], "nice": false}, "axis": {"values": [0, 0.1, 0.2, 0.3, 0.4, 0.5], "format": ".1f", "title": null}},
            "detail": {"field": "c", "type": "nominal"}
          }
        },
        {
          "data": {"values": [{"t": "6°C", "x": 2.6, "y": 0.43}]},
          "mark": {"type": "text", "align": "left", "baseline": "middle", "fontSize": 40},
          "encoding": {"x": {"field": "x", "type": "quantitative"}, "y": {"field": "y", "type": "quantitative"}, "text": {"field": "t"}}
        },
        {
          "data": {"values": [{"t": "B", "x": -17, "y": 0.4954}]},
          "mark": {"type": "text", "align": "center", "baseline": "middle", "fontSize": 29, "fontWeight": "bold"},
          "encoding": {"x": {"field": "x", "type": "quantitative"}, "y": {"field": "y", "type": "quantitative"}, "text": {"field": "t"}}
        }
      ]
    },
    {
      "width": 617,
      "height": 625,
      "layer": [
        {
          "data": {"name": "C"},
          "mark": {"type": "line", "color": "black", "strokeWidth": 2.8},
          "encoding": {
            "x": {"field": "x", "type": "quantitative", "scale": {"domain": [0, 100], "nice": false}, "axis": {"values": [0, 20, 40, 60, 80, 100], "title": "Dissolved oxygen (% air saturation)", "titleX": 723, "titleY": 97}},
            "y": {"field": "y", "type": "quantitative", "scale": {"domain": [0, 0.5], "nice": false}, "axis": {"values": [0, 0.1, 0.2, 0.3, 0.4, 0.5], "format": ".1f", "title": null}},
            "detail": {"field": "c", "type": "nominal"}
          }
        },
        {
          "data": {"values": [{"t": "8°C", "x": 2.6, "y": 0.43}]},
          "mark": {"type": "text", "align": "left", "baseline": "middle", "fontSize": 40},
          "encoding": {"x": {"field": "x", "type": "quantitative"}, "y": {"field": "y", "type": "quantitative"}, "text": {"field": "t"}}
        },
        {
          "data": {"values": [{"t": "C", "x": -18, "y": 0.4954}]},
          "mark": {"type": "text", "align": "center", "baseline": "middle", "fontSize": 29, "fontWeight": "bold"},
          "encoding": {"x": {"field": "x", "type": "quantitative"}, "y": {"field": "y", "type": "quantitative"}, "text": {"field": "t"}}
        }
      ]
    },
    {
      "width": 617,
      "height": 625,
      "layer": [
        {
          "data": {"name": "D"},
          "mark": {"type": "line", "color": "black", "strokeWidth": 2.8},
          "encoding": {
            "x": {"field": "x", "type": "quantitative", "scale": {"domain": [0, 100], "nice": false}, "axis": {"values": [0, 20, 40, 60, 80, 100], "title": null}},
            "y": {"field": "y", "type": "quantitative", "scale": {"domain": [0, 0.5], "nice": false}, "axis": {"values": [0, 0.1, 0.2, 0.3, 0.4, 0.5], "format": ".1f", "title": null}},
            "detail": {"field": "c", "type": "nominal"}
          }
        },
        {
          "data": {"values": [{"t": "10°C", "x": 2.6, "y": 0.43}]},
          "mark": {"type": "text", "align": "left", "baseline": "middle", "fontSize": 40},
          "encoding": {"x": {"field": "x", "type": "quantitative"}, "y": {"field": "y", "type": "quantitative"}, "text": {"field": "t"}}
        },
        {
          "data": {"values": [{"t": "D", "x": -17, "y": 0.4954}]},
          "mark": {"type": "text", "align": "center", "baseline": "middle", "fontSize": 29, "fontWeight": "bold"},
          "encoding": {"x": {"field": "x", "type": "quantitative"}, "y": {"field": "y", "type": "quantitative"}, "text": {"field": "t"}}
        }
      ]
    }
  ]
}
